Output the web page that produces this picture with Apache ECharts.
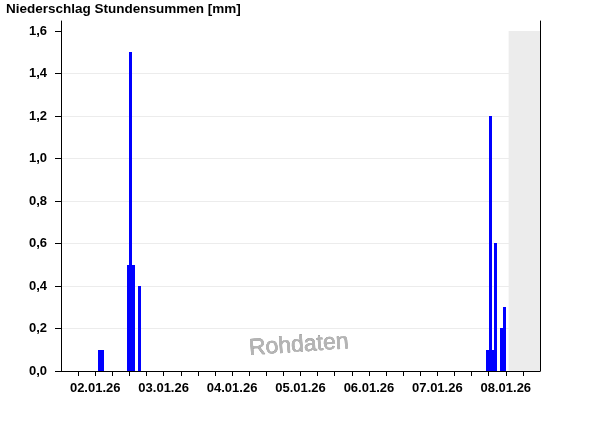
<!DOCTYPE html>
<html>
<head>
<meta charset="utf-8">
<script src="https://cdn.jsdelivr.net/npm/echarts@6/dist/echarts.min.js"></script>
<style>html,body{margin:0;padding:0;background:#fff}#c{width:600px;height:426px}</style>
</head>
<body>
<div id="c"></div>
<script>
// Hours since 02.01.26 00:00 (start of the hourly interval)
const barHours = [13, 14, 23, 24, 25, 27, 149, 150, 151, 152, 154, 155];
const barValues = [0.1, 0.1, 0.5, 1.5, 0.5, 0.4, 0.1, 1.2, 0.1, 0.6, 0.2, 0.3];
const dayLabels = ['02.01.26', '03.01.26', '04.01.26', '05.01.26', '06.01.26', '07.01.26', '08.01.26'];
const yTicks = [0, 0.2, 0.4, 0.6, 0.8, 1.0, 1.2, 1.4, 1.6];
const noDataStartHour = 157;
const xMaxHour = 168;

const font = 'Liberation Sans, Arial, sans-serif';
const chart = echarts.init(document.getElementById('c'), null, {renderer: 'canvas'});

const data = barHours.map((h, i) => [h, barValues[i]]);

chart.setOption({
  animation: false,
  backgroundColor: '#ffffff',
  title: {
    text: 'Niederschlag Stundensummen [mm]',
    left: 1, top: -3,
    textStyle: {fontFamily: font, fontSize: 13.5, fontWeight: 'bold', color: '#000'}
  },
  grid: {left: 61, right: 60, top: 21, bottom: 55},
  xAxis: {
    type: 'value', min: 0, max: xMaxHour, interval: 6,
    axisLine: {show: true, lineStyle: {color: '#000', width: 1}},
    axisTick: {show: true, length: 5, lineStyle: {color: '#000'}},
    splitLine: {show: false},
    axisLabel: {
      margin: 11, fontFamily: font, fontSize: 13, fontWeight: 'bold', color: '#000',
      showMinLabel: false, showMaxLabel: false,
      formatter: v => (v % 24 === 12) ? dayLabels[(v - 12) / 24] : ''
    }
  },
  yAxis: [{
    type: 'value', min: 0, max: 1.647,
    axisLine: {show: true, lineStyle: {color: '#000', width: 1}},
    axisTick: {show: true, length: 6, inside: false, customValues: yTicks, lineStyle: {color: '#000'}},
    splitLine: {show: true, showMaxLine: false, showMinLine: false, lineStyle: {color: '#ececec', width: 1}},
    axisLabel: {
      margin: 14, fontFamily: font, fontSize: 13, fontWeight: 'bold', color: '#000',
      customValues: yTicks,
      formatter: v => v.toFixed(1).replace('.', ',')
    }
  }, {
    type: 'value', min: 0, max: 1.647, position: 'right',
    axisLine: {show: true, lineStyle: {color: '#000', width: 1}},
    axisTick: {show: false}, axisLabel: {show: false}, splitLine: {show: false}
  }],
  graphic: [{
    type: 'text', left: 248, top: 330, rotation: 0.07,
    style: {text: 'Rohdaten', fontFamily: 'Liberation Sans, Arial, sans-serif', fontSize: 23, fill: '#b4b4b4', stroke: '#6a6a6a', lineWidth: 0.45}
  }],
  series: [{
    type: 'custom',
    renderItem: function (params, api) {
      const h = api.value(0), v = api.value(1);
      const p0 = api.coord([h, 0]);
      const p1 = api.coord([h + 1, v]);
      const x0 = Math.round(p0[0]), x1 = Math.round(p1[0]);
      const y0 = Math.round(p0[1]), y1 = Math.round(p1[1]);
      return {
        type: 'rect',
        shape: {x: x0, y: y1, width: x1 - x0, height: y0 - y1},
        style: {fill: '#0000ff'}
      };
    },
    encode: {x: 0, y: 1},
    data: data,
    markArea: {
      silent: true,
      itemStyle: {color: '#ececec'},
      data: [[{xAxis: noDataStartHour, yAxis: 0}, {xAxis: xMaxHour, yAxis: 1.6}]]
    },
    z: 3
  }]
});
</script>
</body>
</html>
